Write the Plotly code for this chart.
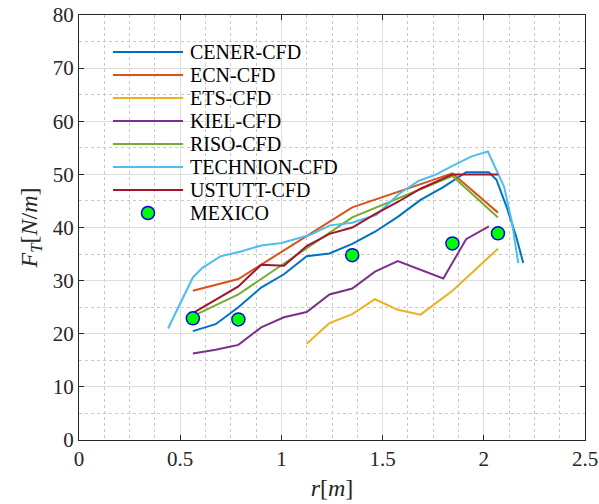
import plotly.graph_objects as go

# ---- data ----
cener_r = [0.5625, 0.675, 0.7875, 0.9, 1.0125, 1.125, 1.2375, 1.35, 1.4625, 1.575,
           1.6875, 1.8, 1.9125, 2.025, 2.0625, 2.1125, 2.16, 2.195]
cener_f = [20.5, 21.8, 25.0, 28.7, 31.2, 34.6, 35.1, 36.9, 39.2, 42.0,
           45.2, 47.6, 50.4, 50.4, 49.0, 43.9, 38.3, 33.3]

ecn_r = [0.5625, 0.7875, 1.35, 1.845, 2.07]
ecn_f = [28.1, 30.3, 43.8, 50.2, 42.8]

ets_r = [1.125, 1.2375, 1.35, 1.4625, 1.575, 1.6875, 1.845, 2.07]
ets_f = [18.1, 22.0, 23.7, 26.5, 24.5, 23.6, 28.1, 36.0]

kiel_r = [0.5625, 0.675, 0.7875, 0.9, 1.0125, 1.125, 1.2375, 1.35, 1.4625, 1.575,
          1.8, 1.9125, 2.025]
kiel_f = [16.3, 17.0, 17.9, 21.2, 23.1, 24.1, 27.4, 28.5, 31.7, 33.7,
          30.4, 37.8, 40.2]

riso_r = [0.5625, 0.7875, 1.35, 1.845, 2.07]
riso_f = [23.3, 27.4, 41.9, 49.7, 41.9]

technion_r = [0.44, 0.5625, 0.61, 0.7, 0.8, 0.9, 1.0, 1.08, 1.14, 1.24, 1.35,
              1.47, 1.58, 1.68, 1.76, 1.86, 1.94, 2.02, 2.1, 2.14, 2.17]
technion_f = [21.0, 30.6, 32.4, 34.6, 35.5, 36.6, 37.1, 37.9, 38.6, 40.4, 40.9,
              42.4, 46.3, 48.8, 49.9, 51.9, 53.4, 54.3, 47.7, 40.8, 33.3]

ustutt_r = [0.5625, 0.7875, 0.9, 1.0125, 1.125, 1.2375, 1.35, 1.4625, 1.575,
            1.6875, 1.845, 2.07]
ustutt_f = [23.9, 28.9, 33.0, 32.8, 36.5, 38.8, 40.0, 42.5, 44.8,
            47.3, 50.0, 50.0]

mexico_r = [0.5625, 0.7875, 1.35, 1.845, 2.07]
mexico_f = [22.9, 22.7, 34.8, 37.0, 38.9]

x_ticks = [0, 0.5, 1, 1.5, 2, 2.5]
x_labels = ["0", "0.5", "1", "1.5", "2", "2.5"]
y_ticks = [0, 10, 20, 30, 40, 50, 60, 70, 80]

series = [
    ("CENER-CFD", cener_r, cener_f, "#0072BD"),
    ("ECN-CFD", ecn_r, ecn_f, "#D95319"),
    ("ETS-CFD", ets_r, ets_f, "#EDB120"),
    ("KIEL-CFD", kiel_r, kiel_f, "#7E2F8E"),
    ("RISO-CFD", riso_r, riso_f, "#77AC30"),
    ("TECHNION-CFD", technion_r, technion_f, "#4DBEEE"),
    ("USTUTT-CFD", ustutt_r, ustutt_f, "#A2142F"),
]
mexico_name = "MEXICO"

FONT = "Liberation Serif"
axcol = "#262626"

W, H = 599, 504
ML, MR, MT, MB = 79, 14, 15, 64
PW = W - ML - MR
PH = H - MT - MB

fig = go.Figure()
for name, r, f, c in series:
    fig.add_trace(go.Scatter(x=r, y=f, mode="lines", name=name, showlegend=False,
                             line=dict(color=c, width=2)))
fig.add_trace(go.Scatter(x=mexico_r, y=mexico_f, mode="markers", name=mexico_name,
                         showlegend=False,
                         marker=dict(color="#00FF00", size=13,
                                     line=dict(color="#0000FF", width=1.5))))

# ---- hand-drawn legend (MATLAB style: long line samples, tight rows) ----
def px2paper_x(px):
    return (px - ML) / PW

def px2paper_y(py):
    return (H - MB - py) / PH

leg_line_x0, leg_line_x1, leg_text_x = 113, 183, 188
leg_row0, leg_dy = 52, 23.0
entries = [(n, c) for n, _, _, c in series] + [(mexico_name, None)]
for i, (name, c) in enumerate(entries):
    yy = px2paper_y(leg_row0 + leg_dy * i)
    if c is not None:
        fig.add_shape(type="line", xref="paper", yref="paper",
                      x0=px2paper_x(leg_line_x0), x1=px2paper_x(leg_line_x1),
                      y0=yy, y1=yy, line=dict(color=c, width=2))
    else:
        cx = px2paper_x((leg_line_x0 + leg_line_x1) / 2)
        fig.add_shape(type="circle", xref="paper", yref="paper",
                      xsizemode="pixel", ysizemode="pixel",
                      xanchor=cx, yanchor=yy, x0=-6.5, x1=6.5, y0=-6.5, y1=6.5,
                      fillcolor="#00FF00", line=dict(color="#0000FF", width=1.5))
    fig.add_annotation(xref="paper", yref="paper", x=px2paper_x(leg_text_x), y=yy,
                       xanchor="left", yanchor="middle", showarrow=False,
                       text=name, font=dict(family=FONT, size=20, color="#000000"))

common = dict(showline=True, linecolor=axcol, linewidth=1.3, mirror="ticks",
              ticks="inside", ticklen=5, tickcolor=axcol, tickwidth=1.3,
              showgrid=True, gridcolor="#dedede", gridwidth=1, zeroline=False,
              ticklabeloverflow="allow",
              tickfont=dict(family=FONT, size=21, color=axcol))

fig.update_xaxes(range=[0, 2.5], tickvals=x_ticks, ticktext=x_labels,
                 minor=dict(dtick=0.125, showgrid=True, griddash="dot",
                            gridcolor="#c8c8c8", gridwidth=1, ticks=""),
                 title=dict(text="<i>r</i>[<i>m</i>]", standoff=8,
                            font=dict(family=FONT, size=24, color=axcol)),
                 **common)
fig.update_yaxes(range=[0, 80], tickvals=y_ticks,
                 minor=dict(dtick=5, showgrid=True, griddash="dot",
                            gridcolor="#c8c8c8", gridwidth=1, ticks=""),
                 title=dict(text="<i>F</i><sub><i>T</i></sub>[<i>N</i>/<i>m</i>]", standoff=8,
                            font=dict(family=FONT, size=24, color=axcol)),
                 **common)

fig.update_layout(
    width=W, height=H,
    margin=dict(l=ML, r=MR, t=MT, b=MB, autoexpand=False),
    paper_bgcolor="white", plot_bgcolor="white",
    font=dict(family=FONT, color="#111111"),
    showlegend=False,
)

fig.write_html("out.html", config={"displayModeBar": False},
               post_script="document.body.style.margin='0';document.body.style.padding='0';")
